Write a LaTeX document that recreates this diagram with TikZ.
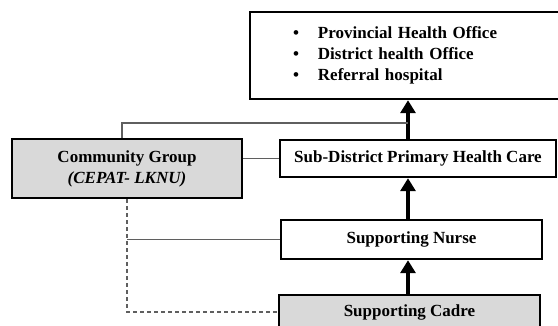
\documentclass[tikz,border=0pt]{standalone}
\usepackage{fontspec}
\setmainfont{Liberation Serif}
\usetikzlibrary{arrows.meta, positioning}
\definecolor{boxgray}{HTML}{D9D9D9}
\definecolor{linkgray}{HTML}{5F5F5F}

\tikzset{
  levelbox/.style={draw, line width=2.4pt, fill=white, font=\bfseries\fontsize{17}{20}\selectfont, inner sep=0pt},
  upflow/.style={line width=3.6pt, -{Triangle[length=13pt,width=15pt]}},
  link/.style={linkgray, line width=1.1pt}
}

\begin{document}
\begin{tikzpicture}[x=1pt, y=-1pt]
            \useasboundingbox (0,0) rectangle (558,325);
            \clip (0,0) rectangle (558,325);
            % Health system levels
            \node[levelbox, minimum width=312pt, minimum height=87pt, text width=226pt, inner xsep=43pt, align=left] (office) at (406,55.5)
                {\raisebox{3pt}{\begin{tabular}{@{}l@{\hspace{19pt}}l@{}}
                  \textbullet & Provincial Health Office\\[1pt]
                  \textbullet & District health Office\\[1pt]
                  \textbullet & Referral hospital
                 \end{tabular}}};
            \node[levelbox, minimum width=276pt, minimum height=37pt] (primary) at (418,158.5) {Sub-District Primary Health Care};
            \node[levelbox, minimum width=261pt, minimum height=39pt] (nurse) at (411.5,239.5) {Supporting Nurse};
            \node[levelbox, fill=boxgray, minimum width=261pt, minimum height=34pt] (cadre) at (409.5,312) {Supporting Cadre};
            \node[levelbox, fill=boxgray, minimum width=230pt, minimum height=59pt, align=center] (community) at (127,168.5)
                {Community Group\\[1pt] \textit{(CEPAT- LKNU)}};
            % Upward flow
            \draw[upflow] (cadre.north -| 408,0) -- (nurse.south -| 408,0);
            \draw[upflow] (nurse.north -| 408,0) -- (primary.south -| 408,0);
            \draw[upflow] (primary.north -| 408,0) -- (office.south -| 408,0);
            % Links from the community group
            \coordinate (shaft) at (408,123);
            \draw[link] (community.north -| 122,0) |- (shaft);
            \draw[link] (primary.west) -- (primary.west -| community.east);
            \draw[link] (nurse.west) -- (nurse.west -| community.south);
            \draw[link, dash pattern=on 4pt off 3pt] (community.south) |- (cadre.west);
        \end{tikzpicture}
\end{document}
